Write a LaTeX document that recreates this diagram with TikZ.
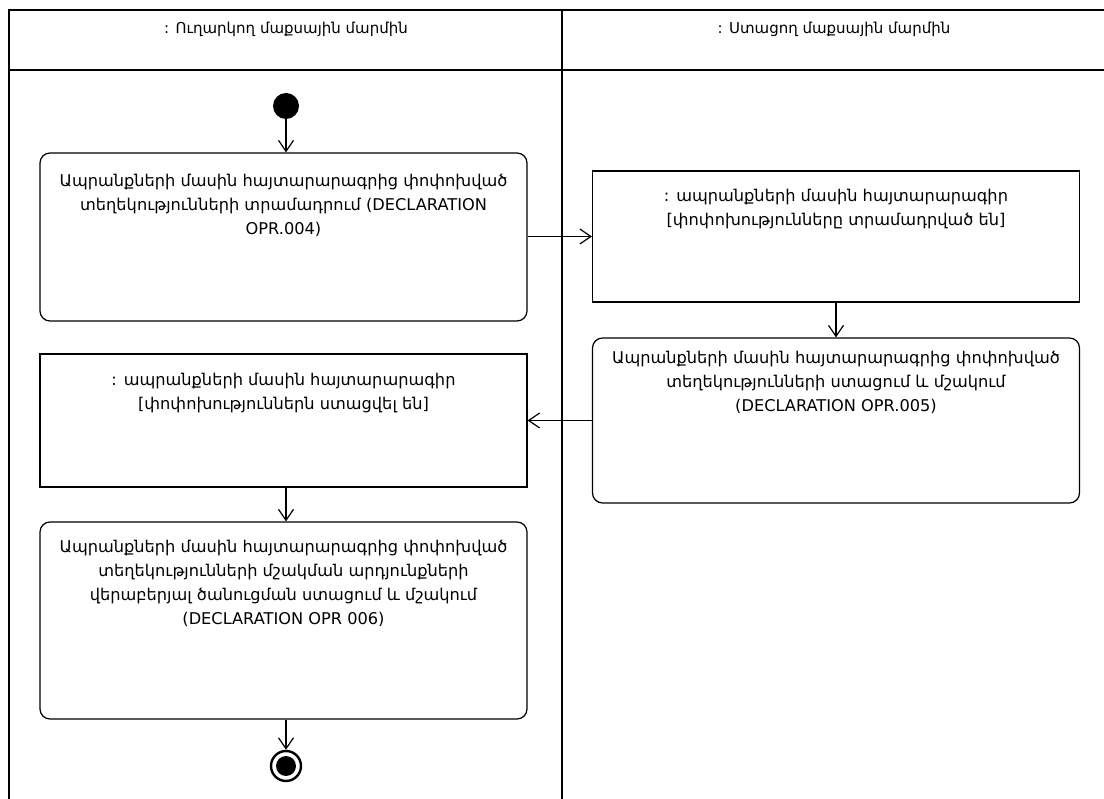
\documentclass[tikz,border=0pt]{standalone}
\usepackage{fontspec}
\setmainfont{DejaVu Sans}
\usetikzlibrary{arrows.meta}

\tikzset{
  lane/.style={line width=1.2pt},
  actbox/.style={draw, line width=1.2pt, rounded corners=10pt, minimum width=487pt, inner sep=0pt},
  objbox/.style={draw, line width=1.2pt, minimum width=487pt, inner sep=0pt},
  boxtext/.style={anchor=north, align=center, font=\fontsize{16.2}{24}\selectfont, inner sep=0pt},
  flow/.style={line width=1.2pt, -{Straight Barb[length=11pt,width=15pt,line width=1.2pt]}},
}

\begin{document}
\begin{tikzpicture}[x=1pt, y=-1pt]
    \useasboundingbox (0,0) rectangle (1104,799);

    % -- Corsie --
    \draw[lane] (9,799) -- (9,10) -- (1104,10);
    \draw[lane] (9,70) -- (1104,70);
    \draw[lane] (562,10) -- (562,799);

    \node[font=\fontsize{15}{18}\selectfont] (laneA) at (286,29) {: Ուղարկող մաքսային մարմին};
    \node[font=\fontsize{15}{18}\selectfont] (laneB) at (834,29) {: Ստացող մաքսային մարմին};

    % -- Nodo iniziale e finale --
    \node[circle, fill, minimum size=26pt, inner sep=0pt] (start) at (286,106) {};
    \node[circle, draw, line width=2.4pt, minimum size=30pt, inner sep=0pt] (end) at (286,766) {};
    \fill (end) circle (10pt);

    % -- Attivita e oggetti --
    \node[actbox, minimum height=168pt] (send) at (283.5,237) {};
    \node[boxtext] (sendtxt) at ([yshift=-22pt]send.north)
        {Ապրանքների մասին հայտարարագրից փոփոխված\\տեղեկությունների տրամադրում (DECLARATION\\OPR.004)};

    \node[objbox, minimum height=131pt] (decl) at (836,236.5) {};
    \node[boxtext] (decltxt) at ([yshift=-19pt]decl.north)
        {: ապրանքների մասին հայտարարագիր\\{}[փոփոխությունները տրամադրված են]};

    \node[actbox, minimum height=165pt] (recv) at (836,420.5) {};
    \node[boxtext] (recvtxt) at ([yshift=-14pt]recv.north)
        {Ապրանքների մասին հայտարարագրից փոփոխված\\տեղեկությունների ստացում և մշակում\\(DECLARATION OPR.005)};

    \node[objbox, minimum height=133pt] (ack) at (283.5,420.5) {};
    \node[boxtext] (acktxt) at ([yshift=-20pt]ack.north)
        {: ապրանքների մասին հայտարարագիր\\{}[փոփոխություններն ստացվել են]};

    \node[actbox, minimum height=197pt] (notif) at (283.5,620.5) {};
    \node[boxtext] (notiftxt) at ([yshift=-19pt]notif.north)
        {Ապրանքների մասին հայտարարագրից փոփոխված\\տեղեկությունների մշակման արդյունքների\\վերաբերյալ ծանուցման ստացում և մշակում\\(DECLARATION OPR 006)};

    % -- Flussi --
    \draw[flow] (start) -- (start |- send.north);
    \draw[flow] (send.east |- decl.west) -- (decl.west);
    \draw[flow] (decl) -- (recv);
    \draw[flow] (recv.west) -- (recv.west -| ack.east);
    \draw[flow] (start |- ack.south) -- (start |- notif.north);
    \draw[flow] (start |- notif.south) -- (end);
\end{tikzpicture}
\end{document}
